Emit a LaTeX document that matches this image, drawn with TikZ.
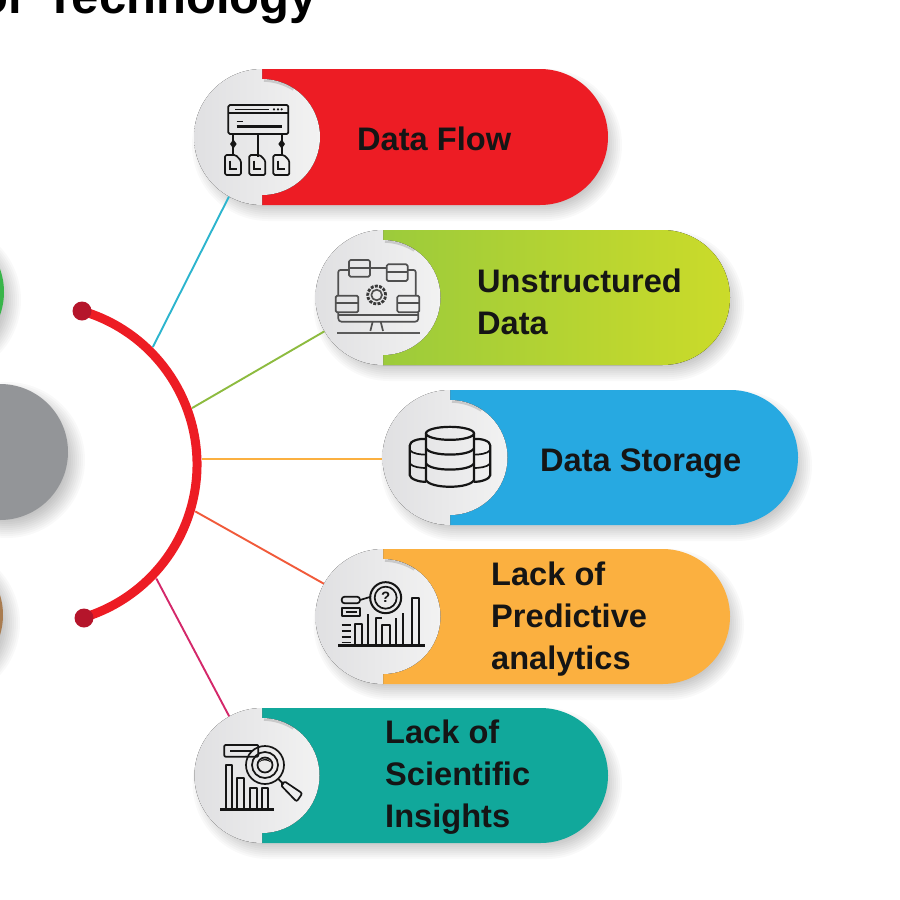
\documentclass[tikz,border=0pt]{standalone}
\usepackage{fontspec}
\usetikzlibrary{calc}
\setmainfont{Liberation Sans}
\definecolor{cRed}{HTML}{ED1C24}
\definecolor{cBlue}{HTML}{27A9E1}
\definecolor{cOrange}{HTML}{FBB040}
\definecolor{cTeal}{HTML}{11A89B}
\definecolor{cGreenA}{HTML}{9CCB3B}
\definecolor{cGreenB}{HTML}{CBDB2A}
\definecolor{cInk}{HTML}{151515}
\definecolor{cDot}{HTML}{B5152B}
\definecolor{cHub}{HTML}{939598}
\definecolor{cDiscG}{HTML}{39B54A}
\definecolor{cDiscB}{HTML}{A97C50}
\definecolor{cBadgeL}{HTML}{E0E0E2}
\definecolor{cBadgeR}{HTML}{F2F2F2}
\definecolor{cL1}{HTML}{2CB5CE}
\definecolor{cL2}{HTML}{8DBB3F}
\definecolor{cL3}{HTML}{FBB040}
\definecolor{cL4}{HTML}{F15A3A}
\definecolor{cL5}{HTML}{D4286A}
\newcommand\softpill[4]{%
  \begin{scope}[shift={(6,-8)}]
  \foreach \dd in {-10,-8,...,8}{\fill[black,opacity=.024] (#1,-#2+\dd) -- (#1+#3-#4/2,-#2+\dd) arc[start angle=90,end angle=-90,radius=#4/2+\dd] -- (#1,-#2-#4-\dd) arc[start angle=-90,end angle=-270,radius=#4/2+\dd] -- cycle;}
  \end{scope}}
\newcommand\softdisc[3]{%
  \foreach \dd in {-10,-8,...,10}{\fill[black,opacity=.024] (#1+7,#2-8) circle[radius=#3+\dd];}}
\newcommand\badge[4]{%
  % x, ytop, h, name
  \fill[left color=cBadgeL,right color=cBadgeR]
    (#1,-#2) arc[start angle=90,end angle=270,radius=#3/2] -- (#1,-#2-#3+10)
    arc[start angle=-90,end angle=90,radius=#3/2-10] -- cycle;
  \draw[black,opacity=.14,line width=2.5pt] (#1+2,-#2-11.5) arc[start angle=88,end angle=58,radius=#3/2-8.5];
  \node[circle,minimum size=#3 pt,inner sep=0pt] (#4) at (#1,-#2-#3/2) {};}
\tikzset{
  x=1pt,y=1pt,
  lbl/.style={font=\fontsize{32.6}{42}\selectfont\bfseries,text=cInk,align=left,inner sep=0pt,anchor=west},
  link/.style={line width=1.9pt},
  ico/.style={draw=cInk,line width=1.7pt,line join=round},
  thick ico/.style={draw=cInk,line width=2.6pt},
  thin ico/.style={draw=cInk,line width=1pt},
  zoomed/.style={x=.33333pt,y=-.33333pt}
}
\begin{document}
\begin{tikzpicture}
\useasboundingbox (0,0) rectangle (900,-900);
\clip (0,0) rectangle (900,-900);
\fill[white] (0,0) rectangle (900,-900);

% title
\node[font=\fontsize{49}{50}\selectfont\bfseries,text=black,inner sep=0pt,anchor=base east] (title) at (317,-13) {or\hspace{18pt}Technology};

% left discs
\softdisc{-64}{-292}{68}
\softdisc{-65}{-615}{68}
\softdisc{0}{-452}{68}
\node[circle,fill=cDiscG,minimum size=136pt,inner sep=0pt] (dGreen) at (-64,-292) {};
\node[circle,fill=cDiscB,minimum size=136pt,inner sep=0pt] (dBrown) at (-65,-615) {};
\node[circle,fill=cHub,minimum size=136pt,inner sep=0pt] (dHub) at (0,-452) {};

% pill shadows and fills
\softpill{262}{69}{346}{136}
\softpill{383}{230}{347}{135}
\softpill{450}{390}{348}{135}
\softpill{383}{549}{347}{135}
\softpill{262}{708}{346}{135}

\fill[cRed] (262,-69) -- (540,-69) arc[start angle=90,end angle=-90,radius=68] -- (262,-205) -- cycle;
\fill[left color=cGreenA,right color=cGreenB] (383,-230) -- (662.5,-230) arc[start angle=90,end angle=-90,radius=67.5] -- (383,-365) -- cycle;
\fill[cBlue] (450,-390) -- (730.5,-390) arc[start angle=90,end angle=-90,radius=67.5] -- (450,-525) -- cycle;
\fill[cOrange] (383,-549) -- (662.5,-549) arc[start angle=90,end angle=-90,radius=67.5] -- (383,-684) -- cycle;
\fill[cTeal] (262,-708) -- (540.5,-708) arc[start angle=90,end angle=-90,radius=67.5] -- (262,-843) -- cycle;

\badge{262}{69}{136}{b1}
\badge{383}{230}{135}{b2}
\badge{450}{390}{135}{b3}
\badge{383}{549}{135}{b4}
\badge{262}{708}{135}{b5}

% hub arc and connectors
\coordinate (arcC) at (37,-464.5);
\coordinate (p1) at ($(arcC)+(45.4:165)$);
\coordinate (p2) at ($(arcC)+(20:165)$);
\coordinate (p3) at ($(arcC)+(2:165)$);
\coordinate (p4) at ($(arcC)+(-16.5:165)$);
\coordinate (p5) at ($(arcC)+(-43.7:165)$);
\draw[link,color=cL1] (p1) -- (b1.241.9);
\draw[link,color=cL2] (p2) -- (b2.210.2);
\draw[link,color=cL3] (p3) -- (b3.west |- p3);
\draw[link,color=cL4] (p4) -- (b4.151.6);
\draw[link,color=cL5] (p5) -- (b5.119.5);
\draw[cRed,line width=9pt] ($(arcC)+(73.7:160)$) arc[start angle=73.7,end angle=-73,radius=160];
\node[circle,fill=cDot,minimum size=19pt,inner sep=0pt] (e1) at (82,-311) {};
\node[circle,fill=cDot,minimum size=19pt,inner sep=0pt] (e2) at (84,-618) {};

% labels
\node[lbl] (t1) at (357,-139) {Data Flow};
\node[lbl] (t2) at (477,-302) {Unstructured\\Data};
\node[lbl] (t3) at (540,-464) {Data Storage};
\node[lbl] (t4) at (491,-619) {Lack of\\Predictive\\analytics};
\node[lbl] (t5) at (385,-777) {Lack of\\Scientific\\Insights};

% icon 1
\begin{scope}[shift={(180,-60)},zoomed]
\draw[ico,rounded corners=1.5pt] (145,135) rectangle (325,222);
\draw[ico] (145,160) -- (325,160);
\draw[thin ico] (165,148) -- (268,148);
\fill[cInk] (282,148) circle[radius=1.2pt] (294,148) circle[radius=1.2pt] (305,148) circle[radius=1.2pt];
\draw[thick ico,line width=3pt] (170,198) -- (305,198);
\draw[thin ico] (170,183) -- (190,183);
\draw[ico] (160,222) -- (160,285) (233,222) -- (233,290) (305,222) -- (305,285);
\fill[cInk] (160,238) -- (170,252) -- (160,266) -- (150,252) -- cycle;
\fill[cInk] (305,238) -- (315,252) -- (305,266) -- (295,252) -- cycle;
\foreach \xx in {135,208,280}{
  \draw[ico,rounded corners=1.5pt] (\xx,285) -- (\xx+32,285) -- (\xx+48,302) -- (\xx+48,345) -- (\xx,345) -- cycle;
  \draw[line width=1.9pt,cInk] (\xx+14,302) -- (\xx+14,328) -- (\xx+36,328);
}
\end{scope}

% icon 2
\begin{scope}[shift={(305,-225)},zoomed]
\draw[ico,draw=cInk!75,rounded corners=1.5pt] (132,105) rectangle (195,155);
\draw[ico,draw=cInk!75] (132,128) -- (195,128);
\draw[ico,draw=cInk!75,rounded corners=1.5pt] (245,118) rectangle (308,168);
\draw[ico,draw=cInk!75] (245,142) -- (308,142);
\draw[ico,draw=cInk!75] (195,130) -- (245,130);
\draw[ico,draw=cInk!75,rounded corners=2pt] (132,135) -- (100,135) -- (100,212);
\draw[ico,draw=cInk!75,rounded corners=2pt] (308,135) -- (332,135) -- (332,212);
\draw[ico,draw=cInk!75,rounded corners=1.5pt] (92,212) rectangle (160,262);
\draw[ico,draw=cInk!75] (92,235) -- (160,235);
\draw[ico,draw=cInk!75,rounded corners=1.5pt] (277,212) rectangle (343,262);
\draw[ico,draw=cInk!75] (277,235) -- (343,235);
\draw[ico,draw=cInk!75,rounded corners=3pt] (100,262) -- (100,290) -- (340,290) -- (340,262);
\draw[ico,draw=cInk!75] (100,270) -- (340,270);
\draw[line width=2.8pt,dash pattern=on 3pt off 1.3pt,cInk!85] (215,210) circle[radius=9pt];
\draw[ico,draw=cInk!75] (215,210) circle[radius=5.3pt];
\draw[ico,draw=cInk!75] (203,290) -- (196,318) (227,290) -- (234,318);
\draw[line width=2.2pt,cInk!70] (97,323) -- (345,323);
\end{scope}

% icon 3
\begin{scope}[shift={(375,-385)},zoomed]
\draw[ico,line width=2.2pt] (225,145) ellipse[x radius=24pt,y radius=6.5pt];
\draw[ico,line width=2.2pt] (153,145) -- (153,285) .. controls (165,312) and (285,312) .. (297,285) -- (297,145);
\foreach \yy in {190,235}{\draw[ico,line width=2.2pt] (153,\yy) .. controls (165,\yy+25) and (285,\yy+25) .. (297,\yy);}
\draw[ico,line width=2.2pt] (153,162) .. controls (130,160) and (104,168) .. (104,182) -- (104,270) .. controls (104,282) and (135,292) .. (153,290);
\draw[ico,line width=2.2pt] (297,162) .. controls (320,160) and (346,168) .. (346,182) -- (346,270) .. controls (346,282) and (315,292) .. (297,290);
\foreach \yy in {195,235}{
  \draw[ico] (104,\yy) .. controls (112,\yy+12) and (140,\yy+14) .. (153,\yy+14);
  \draw[ico] (346,\yy) .. controls (338,\yy+12) and (310,\yy+14) .. (297,\yy+14);}
\end{scope}

% icon 4
\begin{scope}[shift={(305,-545)},zoomed]
\draw[line width=2.4pt,cInk] (100,302) -- (360,302);
\draw[ico,line width=2pt] (242,158) circle[radius=15.5pt];
\draw[ico,line width=1.7pt] (242,158) circle[radius=11pt];
\node[font=\fontsize{15}{15}\selectfont\bfseries,text=cInk,inner sep=0pt] (q) at (242,158) {?};
\draw[ico] (320,302) -- (320,160) -- (342,160) -- (342,302);
\draw[ico] (150,302) -- (150,238) -- (170,238) -- (170,302);
\draw[ico] (190,302) -- (190,208) (212,302) -- (212,220) -- (232,220);
\draw[ico] (232,302) -- (232,240) -- (255,240) -- (255,302);
\draw[ico] (272,302) -- (272,220) (293,302) -- (293,205);
\draw[ico,rounded corners=3pt] (110,155) rectangle (165,175);
\draw[ico] (165,165) -- (198,155);
\draw[ico] (112,190) rectangle (165,212);
\draw[ico] (122,201) -- (155,201);
\draw[ico,line width=1.3pt] (110,240) -- (138,240) (110,258) -- (138,258) (110,276) -- (138,276) (110,292) -- (138,292);
\end{scope}

% icon 5
\begin{scope}[shift={(185,-705)},zoomed]
\draw[line width=2.4pt,cInk] (105,313) -- (268,313);
\draw[ico] (122,313) -- (122,180) -- (140,180) -- (140,313);
\draw[ico] (155,313) -- (155,220) -- (178,220) -- (178,313);
\draw[ico] (195,313) -- (195,248) -- (215,248) -- (215,313);
\draw[ico] (232,313) -- (232,250) -- (250,250) -- (250,313);
\draw[ico,rounded corners=1pt] (118,120) rectangle (220,155);
\draw[ico,line width=2.2pt] (135,137) -- (200,137);
\draw[ico] (240,180) circle[radius=19pt];
\draw[ico] (240,180) circle[radius=13pt];
\draw[ico] (240,180) circle[radius=7.5pt];
\fill[cInk] (222,172) .. controls (232,158) and (250,158) .. (258,172) .. controls (245,164) and (232,164) .. (222,172) -- cycle;
\draw[ico] (280,222) -- (296,238);
\draw[ico,rounded corners=2pt] (297,228) -- (352,265) -- (335,290) -- (287,240) -- cycle;
\end{scope}
\end{tikzpicture}
\end{document}
